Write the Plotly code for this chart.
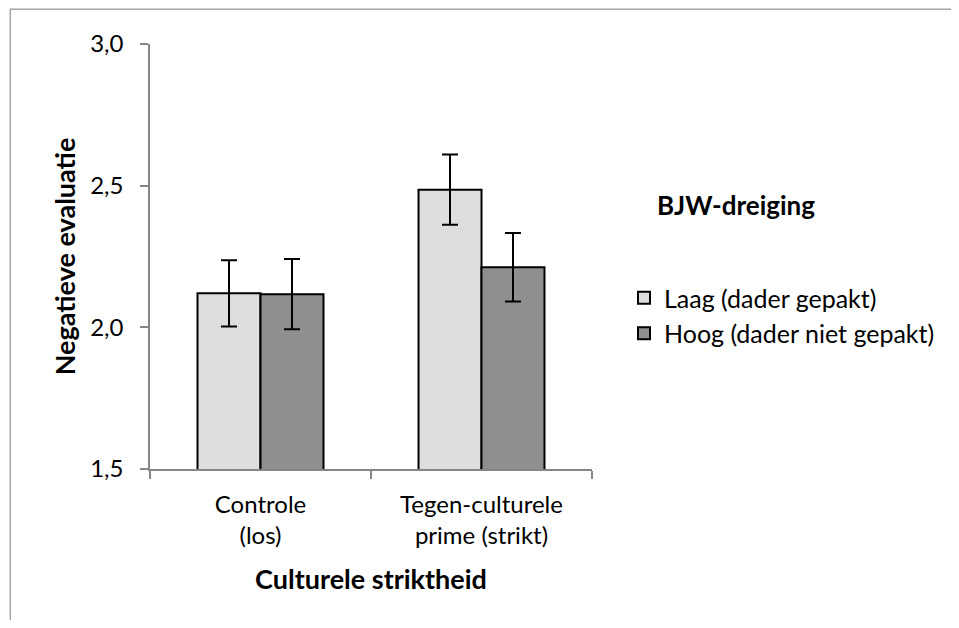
import plotly.graph_objects as go

FONT = "Lato"
C_AXIS = "#868686"
C_LAAG = "#dedede"
C_HOOG = "#8f8f8f"

categories = ["Controle<br>(los)", "Tegen-culturele<br>prime (strikt)"]
laag = [2.120, 2.486]
laag_err = [0.117, 0.124]
hoog = [2.117, 2.212]
hoog_err = [0.124, 0.121]
y_ticks = [1.5, 2.0, 2.5, 3.0]
y_tick_text = ["1,5", "2,0", "2,5", "3,0"]

# plot area in page pixels; the page body adds an 8px margin around the figure
BODY = 8
W, H = 959 - 2 * BODY, 628 - 2 * BODY
PX_L, PX_R, PX_T, PX_B = 150, 593, 44.3, 468.7


def px_x(px):
    return (px - PX_L) / (PX_R - PX_L)


def px_y(py):
    return (PX_B - py) / (PX_B - PX_T)


fig = go.Figure()
for name, vals, errs, col in [
    ("Laag (dader gepakt)", laag, laag_err, C_LAAG),
    ("Hoog (dader niet gepakt)", hoog, hoog_err, C_HOOG),
]:
    fig.add_trace(go.Bar(
        x=categories, y=vals, name=name,
        marker=dict(color=col, line=dict(color="black", width=2)),
        error_y=dict(type="data", array=errs, color="black", thickness=2, width=8),
    ))

fig.update_layout(
    width=W, height=H,
    paper_bgcolor="white", plot_bgcolor="white",
    margin=dict(l=PX_L - BODY, r=W - (PX_R - BODY), t=PX_T - BODY, b=H - (PX_B - BODY)),
    barmode="group", bargap=0.43, bargroupgap=0,
    font=dict(family=FONT, size=24, color="black"),
    showlegend=True,
    legend=dict(x=px_x(624), y=px_y(275), xanchor="left", yanchor="top",
                font=dict(size=25), itemwidth=30, tracegroupgap=0,
                bgcolor="rgba(0,0,0,0)"),
)
fig.update_yaxes(
    range=[1.5, 3.0], tickvals=y_ticks, ticktext=y_tick_text,
    showgrid=False, zeroline=False,
    showline=True, linecolor=C_AXIS, linewidth=1.5,
    ticks="outside", ticklen=8, tickcolor=C_AXIS, tickwidth=1.5,
    ticklabelstandoff=12,
    title=dict(text="<b>Negatieve evaluatie</b>", standoff=7, font=dict(size=27)),
)
fig.update_xaxes(
    showgrid=False, showline=True, linecolor=C_AXIS, linewidth=1.5,
    ticks="outside", tickson="boundaries", ticklen=8, tickcolor=C_AXIS, tickwidth=1.5,
    ticklabelstandoff=13,
    title=dict(text="<b>Culturele striktheid</b>", standoff=22, font=dict(size=27)),
)
fig.add_annotation(text="<b>BJW-dreiging</b>", xref="paper", yref="paper",
                   x=px_x(656), y=px_y(205),
                   xanchor="left", yanchor="middle", showarrow=False,
                   font=dict(size=26))
# outer chart border (right and bottom sides fall outside the window)
fig.add_shape(type="rect", xref="paper", yref="paper",
              x0=px_x(10), x1=px_x(1000),
              y0=px_y(680), y1=px_y(9.5),
              line=dict(color="#a6a6a6", width=1.5), fillcolor="rgba(0,0,0,0)")

fig.write_html("out.html")
